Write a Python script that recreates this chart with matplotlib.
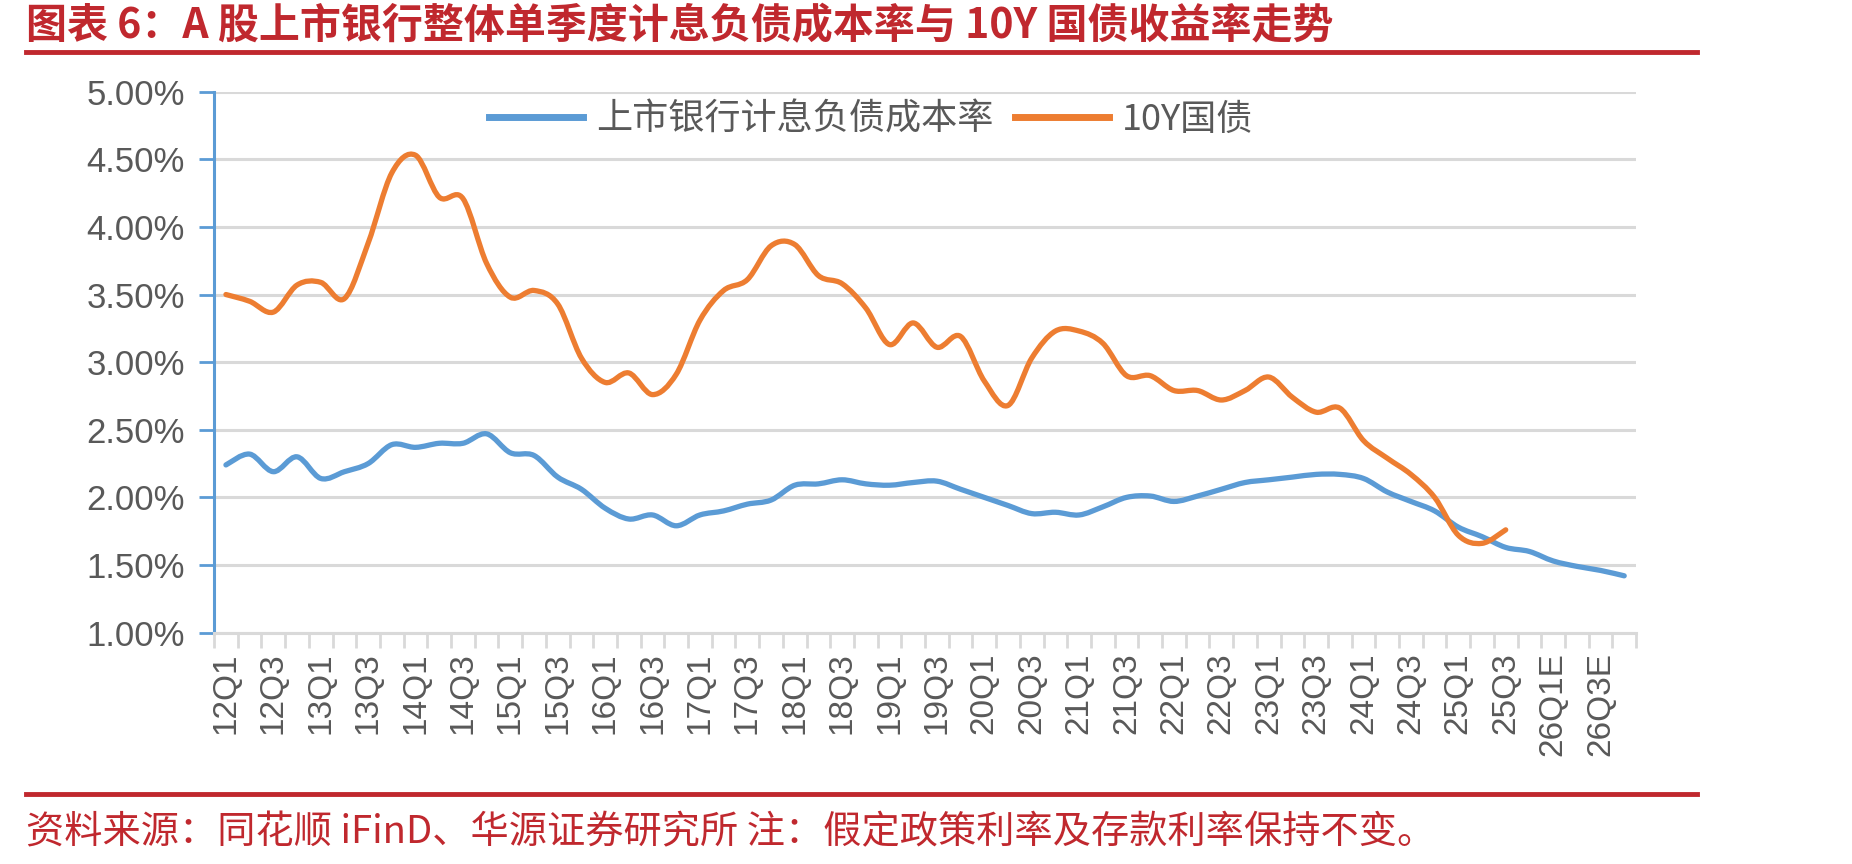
import numpy as np
import matplotlib
matplotlib.use("Agg")
import matplotlib.pyplot as plt
from matplotlib.path import Path
from matplotlib.patches import PathPatch
from matplotlib.lines import Line2D

# quarterly data, 12Q1 .. 26Q4E
years = list(range(12, 27))
quarters = [f"{y}Q{q}" + ("E" if y == 26 else "") for y in years for q in range(1, 5)]

bank_cost = [2.24, 2.32, 2.19, 2.30, 2.14, 2.19, 2.25, 2.39, 2.37, 2.40,
             2.40, 2.47, 2.33, 2.31, 2.15, 2.06, 1.92, 1.84, 1.87, 1.79,
             1.87, 1.90, 1.95, 1.98, 2.09, 2.10, 2.13, 2.10, 2.09, 2.11,
             2.12, 2.06, 2.00, 1.94, 1.88, 1.89, 1.87, 1.93, 2.00, 2.01,
             1.97, 2.01, 2.06, 2.11, 2.13, 2.15, 2.17, 2.17, 2.14, 2.04,
             1.97, 1.90, 1.78, 1.71, 1.63, 1.60, 1.53, 1.49, 1.46, 1.42]
cgb_10y = [3.50, 3.45, 3.37, 3.57, 3.59, 3.47, 3.88, 4.40, 4.53, 4.22,
           4.21, 3.73, 3.48, 3.53, 3.43, 3.03, 2.85, 2.92, 2.76, 2.91,
           3.31, 3.53, 3.61, 3.86, 3.87, 3.64, 3.58, 3.40, 3.13, 3.29,
           3.11, 3.19, 2.86, 2.68, 3.03, 3.23, 3.23, 3.14, 2.90, 2.90,
           2.79, 2.79, 2.72, 2.79, 2.89, 2.74, 2.63, 2.66, 2.42, 2.29,
           2.17, 2.00, 1.72, 1.66, 1.76]
series_names = ["上市银行计息负债成本率", "10Y国债"]
yticks = [1.0, 1.5, 2.0, 2.5, 3.0, 3.5, 4.0, 4.5, 5.0]

title = "图表 6：A 股上市银行整体单季度计息负债成本率与 10Y 国债收益率走势"
source = "资料来源：同花顺 iFinD、华源证券研究所 注：假定政策利率及存款利率保持不变。"

BLUE, ORANGE, RED, GRAY, GRID = "#5B9BD5", "#ED7D31", "#C0282E", "#595959", "#D9D9D9"
CJK = ["Noto Sans CJK SC", "DejaVu Sans"]


def smooth_path(y):
    # excel-style smoothed line: cubic bezier through every point
    x = np.arange(len(y), dtype=float)
    y = np.asarray(y, dtype=float)
    verts, codes = [(x[0], y[0])], [Path.MOVETO]
    n = len(y)
    for i in range(n - 1):
        p0 = max(i - 1, 0); p3 = min(i + 2, n - 1)
        c1 = (x[i] + (x[i + 1] - x[p0]) / 6, y[i] + (y[i + 1] - y[p0]) / 6)
        c2 = (x[i + 1] - (x[p3] - x[i]) / 6, y[i + 1] - (y[p3] - y[i]) / 6)
        verts += [c1, c2, (x[i + 1], y[i + 1])]
        codes += [Path.CURVE4] * 3
    return Path(verts, codes)


fig = plt.figure(figsize=(18.52, 8.64), dpi=100)
ax = fig.add_axes([0.1156, 0.2678, 0.7678, 0.6261])

for data, col in [(bank_cost, BLUE), (cgb_10y, ORANGE)]:
    ax.add_patch(PathPatch(smooth_path(data), fill=False, edgecolor=col, lw=3.8,
                           capstyle="round", joinstyle="round", zorder=3))

ax.set_xlim(-0.5, len(quarters) - 0.5)
ax.set_ylim(1.0, 5.0)
ax.set_yticks(yticks)
ax.set_yticklabels([f"{v:.2f}%" for v in yticks], fontfamily="Liberation Sans",
                   fontsize=25, color=GRAY)
ax.yaxis.grid(True, color=GRID, lw=2.2, zorder=0)
ax.set_axisbelow(True)

pos = np.arange(len(quarters))
ax.set_xticks(pos[::2])
ax.set_xticklabels(quarters[::2], rotation=90, fontfamily="Liberation Sans",
                   fontsize=24, color=GRAY, va="top")
ax.set_xticks(np.arange(-0.5, len(quarters)), minor=True)
ax.tick_params(axis="x", which="major", length=0, pad=14)
ax.tick_params(axis="x", which="minor", length=11, width=2, color=GRID)
ax.tick_params(axis="y", length=11, width=2, color=BLUE, pad=10)

for s in ["top", "right"]:
    ax.spines[s].set_visible(False)
ax.spines["left"].set_color(BLUE)
ax.spines["left"].set_linewidth(2.2)
ax.spines["bottom"].set_color(GRID)
ax.spines["bottom"].set_linewidth(2.2)

handles = [Line2D([], [], color=BLUE, lw=5), Line2D([], [], color=ORANGE, lw=5)]
leg = ax.legend(handles, series_names, loc="center", bbox_to_anchor=(0.462, 0.948),
                ncol=2, frameon=False, handlelength=2.6, handletextpad=0.35,
                columnspacing=0.6, prop={"family": CJK, "size": 26})
for t in leg.get_texts():
    t.set_color(GRAY)

# header / footer
fig.text(26 / 1852, 1 - 26 / 864, title, fontsize=29.5, fontweight="bold", color=RED,
         family=CJK, va="center", ha="left")
fig.add_artist(Line2D([26 / 1852, 1697 / 1852], [1 - 52 / 864] * 2, color=RED, lw=3.5))
fig.add_artist(Line2D([26 / 1852, 1697 / 1852], [1 - 794 / 864] * 2, color=RED, lw=3.5))
fig.text(26 / 1852, 1 - 833 / 864, source, fontsize=27.5, color=RED, family=CJK,
         va="center", ha="left")

fig.savefig("out.png", dpi=100, facecolor="white")
